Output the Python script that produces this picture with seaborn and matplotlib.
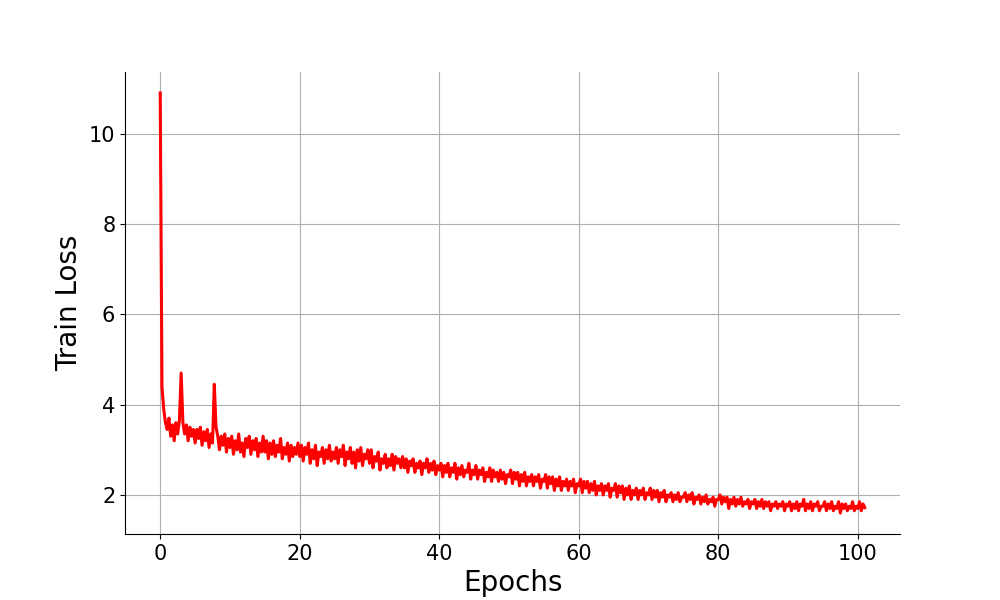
import numpy as np
import seaborn as sns
from matplotlib import pyplot as plt

# train loss, 4 steps per epoch
loss = [
    10.9, 4.4, 3.9, 3.6, 3.45, 3.7, 3.3, 3.55, 3.2, 3.6, 3.35, 3.65, 4.7, 3.6, 3.35, 3.55, 3.2, 3.5, 3.3, 3.45,
    3.15, 3.45, 3.25, 3.5, 3.1, 3.4, 3.2, 3.45, 3.05, 3.35, 3.15, 4.45, 3.5, 3.3, 3.0, 3.3, 3.1, 3.35, 2.95, 3.25,
    3.05, 3.3, 2.9, 3.2, 3.0, 3.35, 2.95, 3.15, 2.85, 3.25, 3.05, 3.3, 2.9, 3.2, 3.0, 3.25, 2.85, 3.15, 2.95, 3.3,
    2.95, 3.2, 2.8, 3.15, 2.9, 3.2, 2.85, 3.1, 2.95, 3.25, 2.8, 3.05, 2.9, 3.15, 2.75, 3.1, 2.85, 3.05, 2.9, 3.15,
    2.85, 3.1, 2.75, 3.05, 2.9, 3.15, 2.7, 3.0, 2.8, 3.1, 2.65, 2.95, 2.85, 3.05, 2.7, 3.0, 2.8, 3.1, 2.75, 2.95,
    2.8, 3.05, 2.7, 3.0, 2.85, 3.1, 2.65, 2.95, 2.8, 3.05, 2.7, 2.95, 2.6, 3.0, 2.75, 3.05, 2.65, 2.9, 2.8, 3.0,
    2.7, 3.0, 2.6, 2.85, 2.75, 2.95, 2.55, 2.8, 2.7, 2.9, 2.6, 2.8, 2.65, 2.9, 2.55, 2.85, 2.7, 2.8, 2.6, 2.85,
    2.6, 2.8, 2.5, 2.75, 2.65, 2.8, 2.5, 2.7, 2.6, 2.75, 2.45, 2.7, 2.6, 2.8, 2.5, 2.7, 2.55, 2.75, 2.45, 2.65,
    2.55, 2.7, 2.4, 2.65, 2.5, 2.7, 2.4, 2.6, 2.5, 2.7, 2.35, 2.6, 2.45, 2.65, 2.4, 2.55, 2.5, 2.7, 2.35, 2.55,
    2.45, 2.65, 2.35, 2.55, 2.45, 2.6, 2.3, 2.5, 2.4, 2.6, 2.3, 2.55, 2.4, 2.5, 2.3, 2.55, 2.35, 2.5, 2.25, 2.45,
    2.4, 2.55, 2.25, 2.5, 2.35, 2.5, 2.2, 2.45, 2.3, 2.5, 2.2, 2.4, 2.3, 2.45, 2.2, 2.4, 2.3, 2.45, 2.15, 2.35,
    2.3, 2.45, 2.15, 2.4, 2.25, 2.4, 2.1, 2.35, 2.2, 2.4, 2.1, 2.3, 2.2, 2.35, 2.1, 2.3, 2.2, 2.35, 2.05, 2.25,
    2.2, 2.35, 2.05, 2.3, 2.15, 2.3, 2.05, 2.25, 2.1, 2.3, 2.0, 2.2, 2.1, 2.25, 2.0, 2.2, 2.1, 2.25, 1.95, 2.15,
    2.1, 2.25, 1.95, 2.2, 2.05, 2.2, 1.9, 2.15, 2.0, 2.2, 1.9, 2.1, 2.0, 2.15, 1.9, 2.1, 2.0, 2.15, 1.9, 2.05,
    2.0, 2.15, 1.9, 2.1, 1.95, 2.1, 1.85, 2.05, 1.95, 2.1, 1.85, 2.0, 1.95, 2.05, 1.85, 2.0, 1.9, 2.05, 1.85, 1.95,
    1.95, 2.05, 1.85, 2.0, 1.9, 2.05, 1.8, 1.95, 1.9, 2.0, 1.8, 1.95, 1.85, 2.0, 1.8, 1.9, 1.85, 1.95, 1.75, 1.9,
    1.9, 2.0, 1.8, 1.95, 1.85, 1.95, 1.7, 1.9, 1.8, 1.95, 1.75, 1.9, 1.8, 1.95, 1.75, 1.85, 1.8, 1.9, 1.7, 1.85,
    1.8, 1.9, 1.7, 1.85, 1.75, 1.9, 1.7, 1.85, 1.75, 1.85, 1.65, 1.8, 1.75, 1.85, 1.7, 1.8, 1.75, 1.85, 1.65, 1.8,
    1.75, 1.85, 1.65, 1.8, 1.7, 1.85, 1.65, 1.8, 1.75, 1.9, 1.65, 1.8, 1.7, 1.85, 1.65, 1.8, 1.75, 1.85, 1.65, 1.75,
    1.75, 1.85, 1.65, 1.8, 1.7, 1.85, 1.65, 1.75, 1.7, 1.85, 1.6, 1.8, 1.7, 1.8, 1.65, 1.75, 1.7, 1.85, 1.65, 1.75,
    1.7, 1.85, 1.65, 1.8, 1.72,
]
steps_per_epoch = 4
epochs = np.arange(len(loss)) / steps_per_epoch


fig, ax = plt.subplots(figsize=(10, 6))

sns.lineplot(x=epochs, y=loss, ax=ax, color='red', linewidth=2.2)

ax.set_xlabel("Epochs", fontsize=20)
ax.set_ylabel("Train Loss", fontsize=20)
ax.tick_params(labelsize=15)

ax.grid(True)
sns.despine()

plt.savefig("out.png", dpi=100)
